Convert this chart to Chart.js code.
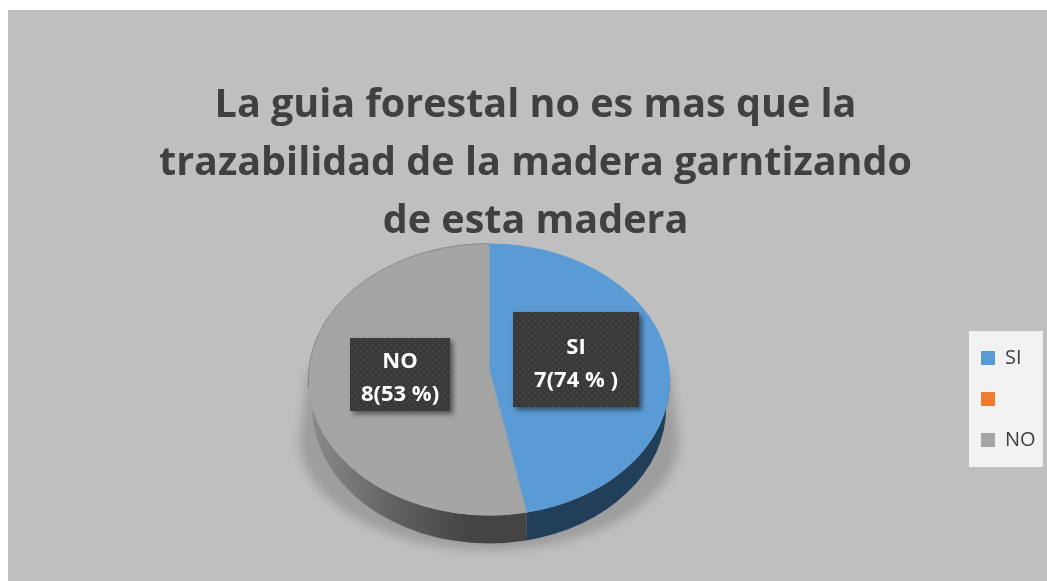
<!DOCTYPE html>
<html lang="es">
<head>
<meta charset="utf-8">
<title>La guia forestal</title>
<script src="https://cdn.jsdelivr.net/npm/chart.js@4"></script>
<style>
  html, body { margin: 0; padding: 0; background: #fff; overflow: hidden; }
  #wrap { position: absolute; left: 8px; top: 10px; width: 1039px; height: 571px; }
</style>
</head>
<body>
<div id="wrap"><canvas id="chart" width="1039" height="571"></canvas></div>
<script>
// Values as printed on the slices (the middle category is empty)
const categories = ['SI', '', 'NO'];
const values = [7, 0, 8];
const colors = ['#5b9bd5', '#ed7d31', '#a5a5a5'];
const sideColors = ['#223f59', '#ed7d31', '#444444'];
const titleLines = [
  'La guia forestal no es mas que la',
  'trazabilidad de la madera garntizando',
  'de esta madera'
];
const sliceLabels = [
  { lines: ['SI', '7(74 % )'], box: [505, 302, 126, 95], firstBaseline: 344 },
  { lines: ['NO', '8(53 %)'], box: [342, 328, 100, 73], firstBaseline: 358 }
];

const squash = 136 / 181;   // tilt of the pie
const depth = 28;           // height of the side wall
const apexLift = 12;        // perspective: apex sits above the ellipse centre

function dotPattern(ctx) {
  const tile = document.createElement('canvas');
  tile.width = 6;
  tile.height = 6;
  const t = tile.getContext('2d');
  t.fillStyle = '#393939';
  t.fillRect(0, 0, 6, 6);
  t.fillStyle = '#444444';
  t.fillRect(1, 1, 2, 2);
  t.fillRect(4, 4, 2, 2);
  return ctx.createPattern(tile, 'repeat');
}

const pie3d = {
  id: 'pie3d',
  beforeDatasetsDraw(chart) {
    const { ctx } = chart;
    const arcs = chart.getDatasetMeta(0).data;
    const { x, y, outerRadius: r } = arcs[0];
    const ry = r * squash;

    // soft shadow behind the pie
    ctx.save();
    ctx.filter = 'blur(5px)';
    ctx.fillStyle = 'rgba(0,0,0,0.17)';
    ctx.beginPath();
    ctx.moveTo(x - r, y - 10);
    ctx.lineTo(x - r - 9, y + 60);
    ctx.ellipse(x, y + 60, r + 9, ry - 25, 0, Math.PI, 0, true);
    ctx.lineTo(x + r, y - 10);
    ctx.closePath();
    ctx.fill();
    ctx.restore();

    // side wall, only the front half shows
    arcs.forEach((arc, i) => {
      const a0 = Math.max(arc.startAngle, 0);
      const a1 = Math.min(arc.endAngle, Math.PI);
      if (a1 <= a0 || values[i] === 0) return;
      ctx.beginPath();
      ctx.ellipse(x, y, r, ry, 0, a0, a1);
      ctx.ellipse(x, y + depth, r - 4, ry, 0, a1, a0, true);
      ctx.closePath();
      if (categories[i] === 'NO') {
        const g = ctx.createLinearGradient(x - r, 0, x + 20, 0);
        g.addColorStop(0, '#8c8c8c');
        g.addColorStop(0.45, '#5f5f5f');
        g.addColorStop(0.8, sideColors[i]);
        g.addColorStop(1, sideColors[i]);
        ctx.fillStyle = g;
      } else {
        ctx.fillStyle = sideColors[i];
      }
      ctx.fill();
    });

    ctx.save();
    ctx.translate(x, y);
    ctx.scale(1, squash);
    ctx.translate(-x, -y);
  },
  afterDatasetsDraw(chart) {
    const { ctx } = chart;
    ctx.restore();
    const arcs = chart.getDatasetMeta(0).data;
    const { x, y, outerRadius: r } = arcs[0];
    const ry = r * squash;

    // move the apex up: the seam runs from the lifted apex to the rim
    const seam = arcs[0].endAngle;
    ctx.fillStyle = colors[2];
    ctx.beginPath();
    ctx.moveTo(x, y);
    ctx.lineTo(x, y - apexLift);
    ctx.lineTo(x + r * Math.cos(seam), y + ry * Math.sin(seam));
    ctx.closePath();
    ctx.fill();

    ctx.strokeStyle = 'rgba(105,105,105,0.55)';
    ctx.lineWidth = 1;
    ctx.beginPath();
    ctx.ellipse(x, y, r, ry, 0, Math.PI * 0.98, Math.PI * 1.5);
    ctx.stroke();

    // dark label boxes
    const pattern = dotPattern(ctx);
    sliceLabels.forEach((label) => {
      const [bx, by, bw, bh] = label.box;
      ctx.save();
      ctx.shadowColor = 'rgba(0,0,0,0.5)';
      ctx.shadowBlur = 5;
      ctx.shadowOffsetX = 3;
      ctx.shadowOffsetY = 3;
      ctx.fillStyle = '#393939';
      ctx.fillRect(bx, by, bw, bh);
      ctx.restore();
      ctx.fillStyle = pattern;
      ctx.fillRect(bx, by, bw, bh);
      ctx.fillStyle = '#ffffff';
      ctx.font = 'bold 22px "Open Sans"';
      ctx.textAlign = 'center';
      ctx.textBaseline = 'alphabetic';
      label.lines.forEach((line, i) => {
        ctx.fillText(line, bx + bw / 2, label.firstBaseline + i * 33);
      });
    });
  }
};

// Light panel behind the legend
const legendPanel = {
  id: 'legendPanel',
  beforeDraw(chart) {
    const { ctx } = chart;
    ctx.save();
    ctx.fillStyle = '#bfbfbf';
    ctx.fillRect(0, 0, chart.width, chart.height);
    ctx.fillStyle = '#f2f2f2';
    ctx.fillRect(961, 321, 74, 136);
    ctx.restore();
  },
  afterLayout(chart) {
    const lg = chart.legend;
    lg.left = 952;
    lg.right = 1046;
    lg.top = 389 - lg.height / 2;
    lg.bottom = lg.top + lg.height;
    lg.adjustHitBoxes();
    // title sits a little right of the canvas centre
    chart.titleBlock.left += 3.5;
    chart.titleBlock.right += 3.5;
  }
};

new Chart(document.getElementById('chart'), {
  type: 'pie',
  data: {
    labels: categories,
    datasets: [{
      data: values,
      backgroundColor: colors,
      borderWidth: 0
    }]
  },
  plugins: [legendPanel, pie3d],
  options: {
    responsive: false,
    animation: false,
    events: [],
    radius: 181,
    layout: { padding: { left: 2, right: -7, top: 20, bottom: 73 } },
    plugins: {
      title: {
        display: true,
        text: titleLines,
        color: '#404040',
        font: { family: 'Open Sans', weight: 'bold', size: 39.5, lineHeight: 1.468 },
        padding: { top: 47, bottom: 0 }
      },
      legend: {
        position: 'right',
        labels: {
          boxWidth: 14,
          boxHeight: 14,
          padding: 21,
          color: '#404040',
          font: { family: 'Open Sans', size: 20 }
        }
      },
      tooltip: { enabled: false }
    }
  }
});
</script>
</body>
</html>
